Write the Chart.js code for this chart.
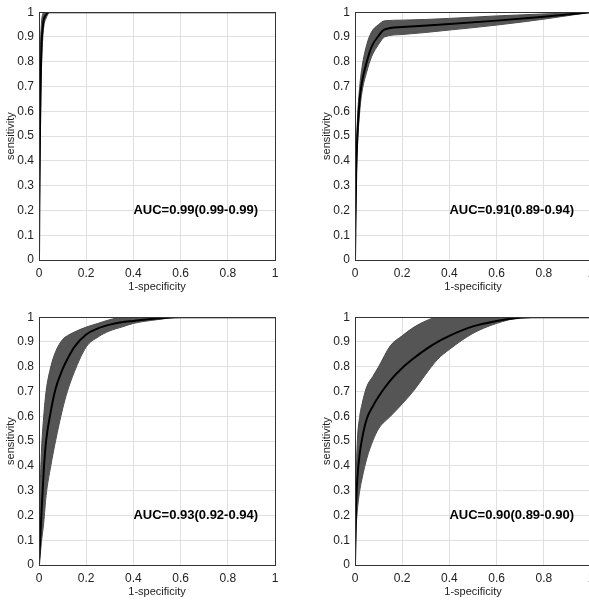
<!DOCTYPE html>
<html>
<head>
<meta charset="utf-8">
<script src="https://cdn.jsdelivr.net/npm/chart.js@4.4.1/dist/chart.umd.min.js"></script>
<style>
  html, body { margin: 0; padding: 0; background: #fff; }
  body { width: 589px; height: 600px; overflow: hidden; position: relative; }
  canvas { position: absolute; }
  #roc1 { left: 0; top: 0; }
  #roc2 { left: 316px; top: 0; }
  #roc3 { left: 0; top: 305px; }
  #roc4 { left: 316px; top: 305px; }
</style>
</head>
<body>
<canvas id="roc1" width="295" height="300"></canvas>
<canvas id="roc2" width="295" height="300"></canvas>
<canvas id="roc3" width="295" height="300"></canvas>
<canvas id="roc4" width="295" height="300"></canvas>
<script>
// ROC curves: mean sensitivity with upper/lower band, sampled at the same false positive rates
const fpr1   = [0, 0.002, 0.005, 0.01, 0.015, 0.02, 0.03, 0.04, 0.05, 1];
const mean1  = [0, 0.3, 0.6, 0.85, 0.93, 0.97, 0.99, 1, 1, 1];
const upper1 = [0, 0.45, 0.8, 0.95, 0.99, 1, 1, 1, 1, 1];
const lower1 = [0, 0.2, 0.45, 0.75, 0.88, 0.94, 0.975, 0.995, 1, 1];

const fpr2   = [0, 0.005, 0.01, 0.02, 0.03, 0.05, 0.07, 0.1, 0.125, 0.2, 0.4, 0.6, 0.8, 1];
const mean2  = [0, 0.35, 0.5, 0.65, 0.72, 0.8, 0.86, 0.905, 0.93, 0.94, 0.952, 0.966, 0.982, 1];
const upper2 = [0, 0.4, 0.56, 0.7, 0.78, 0.87, 0.92, 0.95, 0.965, 0.968, 0.975, 0.985, 0.993, 1];
const lower2 = [0, 0.3, 0.45, 0.6, 0.68, 0.76, 0.82, 0.87, 0.9, 0.91, 0.928, 0.948, 0.972, 1];

const fpr3   = [0, 0.005, 0.01, 0.02, 0.03, 0.05, 0.07, 0.1, 0.12, 0.15, 0.2, 0.25, 0.3, 0.35, 0.4, 0.5, 0.6, 1];
const mean3  = [0, 0.1, 0.2, 0.38, 0.5, 0.62, 0.71, 0.79, 0.83, 0.88, 0.93, 0.955, 0.97, 0.98, 0.985, 0.995, 1, 1];
const upper3 = [0, 0.3, 0.45, 0.6, 0.7, 0.8, 0.86, 0.91, 0.925, 0.94, 0.96, 0.975, 0.99, 1, 1, 1, 1, 1];
const lower3 = [0, 0.04, 0.09, 0.17, 0.28, 0.4, 0.5, 0.63, 0.7, 0.78, 0.88, 0.92, 0.945, 0.96, 0.975, 0.99, 1, 1];

const fpr4   = [0, 0.005, 0.01, 0.02, 0.03, 0.05, 0.075, 0.1, 0.15, 0.2, 0.25, 0.3, 0.35, 0.4, 0.5, 0.6, 0.7, 0.75, 1];
const mean4  = [0, 0.25, 0.35, 0.45, 0.51, 0.59, 0.64, 0.68, 0.745, 0.795, 0.835, 0.87, 0.9, 0.925, 0.963, 0.985, 0.998, 1, 1];
const upper4 = [0, 0.35, 0.5, 0.6, 0.65, 0.72, 0.76, 0.8, 0.885, 0.925, 0.96, 0.985, 1, 1, 1, 1, 1, 1, 1];
const lower4 = [0, 0.15, 0.22, 0.3, 0.35, 0.43, 0.5, 0.55, 0.6, 0.65, 0.705, 0.77, 0.83, 0.87, 0.935, 0.975, 0.998, 1, 1];

const aucLabels = [
  "AUC=0.99(0.99-0.99)",
  "AUC=0.91(0.89-0.94)",
  "AUC=0.93(0.92-0.94)",
  "AUC=0.90(0.89-0.90)"
];
const aucAt = [0.4, 0.2]; // where the AUC text starts, in data units

const FONT = '"Liberation Sans", Arial, Helvetica, sans-serif';
Chart.defaults.font.family = FONT;
Chart.defaults.font.size = 11;
Chart.defaults.color = "#222";

// box around the plot plus the AUC text
const frameAndLabel = {
  id: "frameAndLabel",
  afterDatasetsDraw(chart, args, opts) {
    const { ctx, chartArea: a, scales } = chart;
    ctx.save();
    ctx.strokeStyle = "#333";
    ctx.lineWidth = 1;
    ctx.strokeRect(Math.round(a.left) + 0.5, Math.round(a.top) + 0.5,
      Math.round(a.right - a.left), Math.round(a.bottom - a.top));
    ctx.font = "bold 13px " + FONT;
    ctx.fillStyle = "#000";
    ctx.textAlign = "left";
    ctx.textBaseline = "middle";
    ctx.fillText(opts.text, scales.x.getPixelForValue(aucAt[0]), scales.y.getPixelForValue(aucAt[1]));
    ctx.restore();
  }
};

function pts(xs, ys) {
  return xs.map((x, i) => ({ x, y: ys[i] }));
}

// "0", "0.1", ... "1" without trailing zeros
const tickText = v => String(Number(v.toFixed(2)));

function drawRoc(canvasId, xs, mean, upper, lower, label) {
  const band = { pointRadius: 0, borderColor: "#4a4a4a", borderWidth: 1,
    backgroundColor: "#555", cubicInterpolationMode: "monotone", order: 1 };
  return new Chart(document.getElementById(canvasId), {
    type: "line",
    data: {
      datasets: [
        { ...band, data: pts(xs, upper), fill: "+1" },
        { ...band, data: pts(xs, lower), fill: false },
        { data: pts(xs, mean), borderColor: "#000", borderWidth: 2, pointRadius: 0,
          fill: false, cubicInterpolationMode: "monotone", order: 0 }
      ]
    },
    options: {
      responsive: false,
      animation: false,
      devicePixelRatio: 1,
      layout: { padding: { top: 12, right: 20, left: 0, bottom: 0 } },
      plugins: { legend: { display: false }, tooltip: { enabled: false }, frameAndLabel: { text: label } },
      scales: {
        x: {
          type: "linear", min: 0, max: 1,
          ticks: { stepSize: 0.2, maxRotation: 0, padding: 6, font: { size: 12 }, callback: tickText },
          grid: { color: "#e0e0e0", drawTicks: false },
          border: { color: "#333" },
          title: { display: true, text: "1-specificity", padding: { top: 0, bottom: 6 } },
          afterFit: s => { s.height = 40; }
        },
        y: {
          min: 0, max: 1,
          ticks: { stepSize: 0.1, padding: 5, font: { size: 12 }, callback: tickText },
          grid: { color: "#e0e0e0", drawTicks: false },
          border: { color: "#333" },
          title: { display: true, text: "sensitivity", padding: { top: 4, bottom: 0 } },
          afterFit: s => { s.width = 39; }
        }
      }
    },
    plugins: [frameAndLabel]
  });
}

drawRoc("roc1", fpr1, mean1, upper1, lower1, aucLabels[0]);
drawRoc("roc2", fpr2, mean2, upper2, lower2, aucLabels[1]);
drawRoc("roc3", fpr3, mean3, upper3, lower3, aucLabels[2]);
drawRoc("roc4", fpr4, mean4, upper4, lower4, aucLabels[3]);
</script>
</body>
</html>
